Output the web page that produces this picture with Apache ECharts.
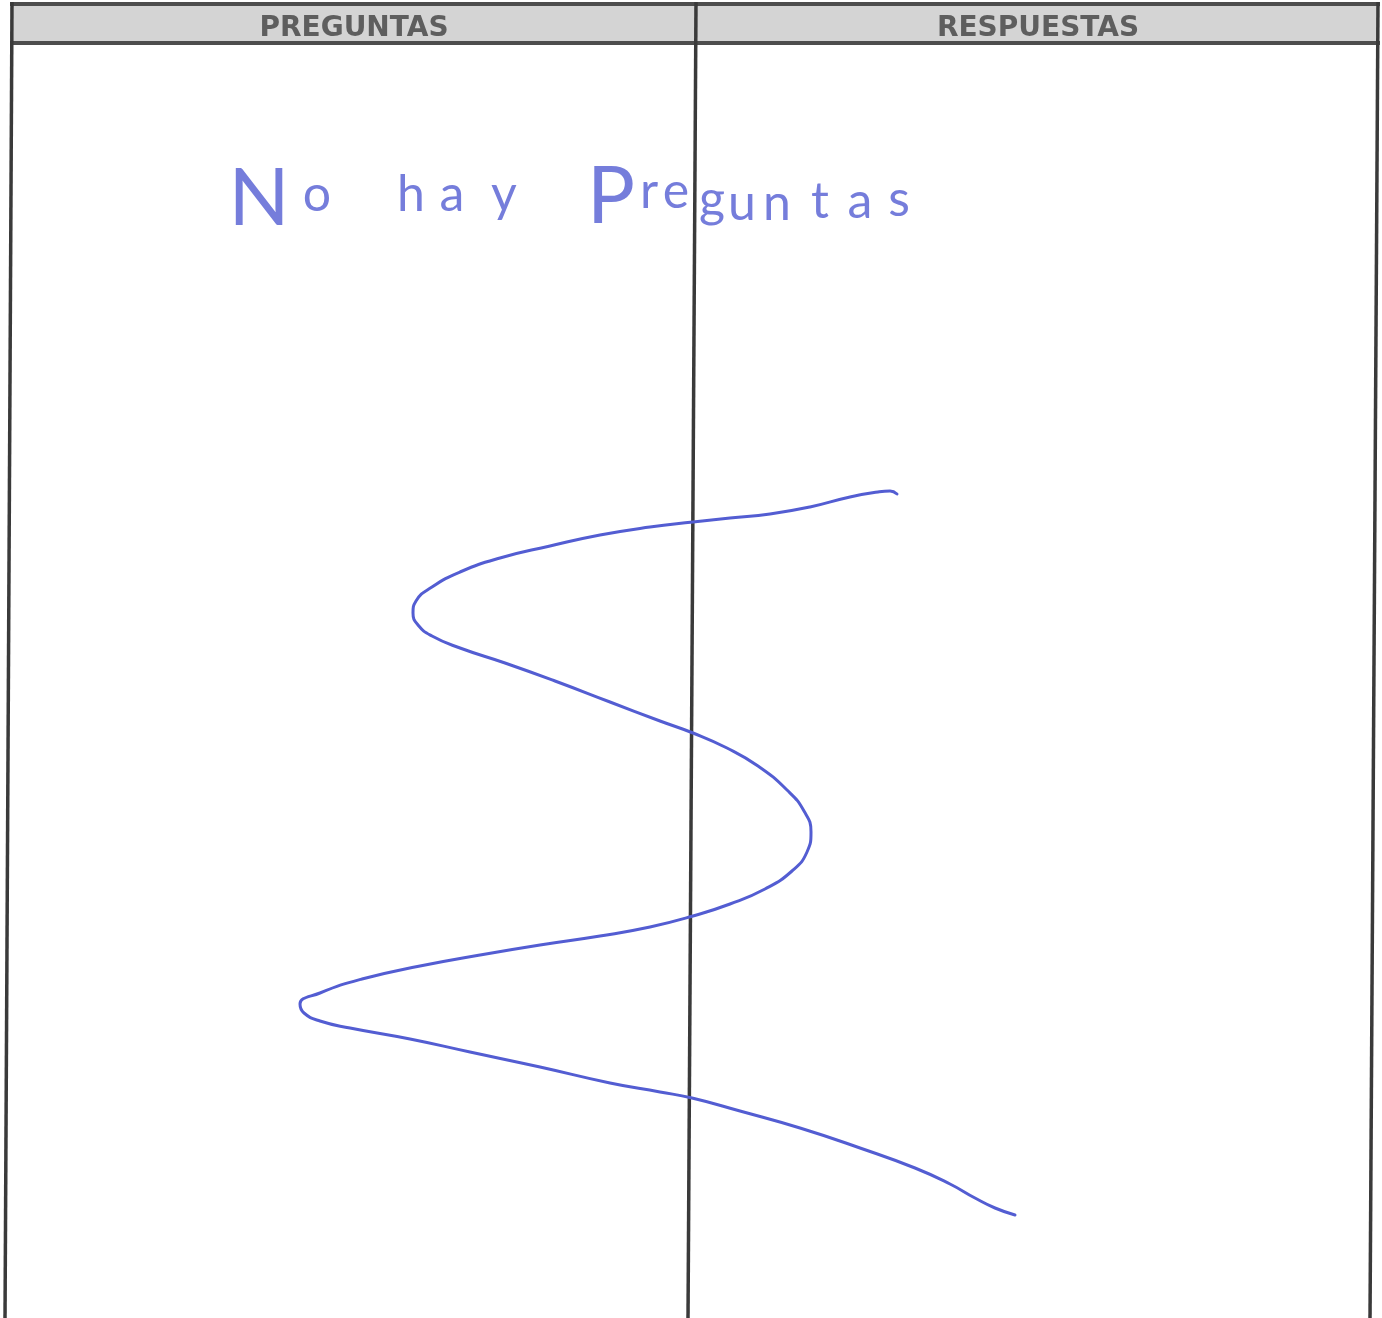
<!DOCTYPE html>
<html>
<head>
<meta charset="utf-8">
<script src="https://cdn.jsdelivr.net/npm/echarts@6/dist/echarts.min.js"></script>
<style>
html,body{margin:0;padding:0;background:#fff;}
#chart{width:1382px;height:1318px;}
</style>
</head>
<body>
<div id="chart"></div>
<script>
// ---- data (page coordinates, y downward) ----
const headerLabels = ['PREGUNTAS', 'RESPUESTAS'];
const headerCenters = [[354, 29], [1038, 29]];
const headerBox = [[12, 4], [1378, 4], [1378, 43], [12, 43]];
// table rules: [x1, y1, x2, y2]
const tableRules = [
  [10, 4, 1380, 4],
  [10, 43, 1380, 43],
  [12, 2, 5, 1318],
  [696, 2, 688, 1318],
  [1378, 2, 1370, 1318]
];
// handwritten note: glyph, centre x, baseline y
const noteGlyphs = ['N','o','h','a','y','P','r','e','g','u','n','t','a','s'];
const noteX = [259, 317, 411, 452, 504, 611, 649, 676, 712, 742, 777, 820, 860, 899];
const noteBaseline = [228, 213, 213, 213, 213, 226, 210, 210, 218, 222, 222, 220, 220, 218];
// pen stroke (scribble) points [x, y]
const penStroke = [
  [897,494],[890,491],[878,492],[850,497],[810,507],[770,514],[730,518],[693,522],
  [650,527],[600,535],[550,546],[500,558],[460,572],[432,587],[416,601],[413,613],
  [418,625],[432,636],[460,648],[505,663],[555,681],[610,702],[660,721],[693,733],
  [727,748],[758,766],[787,790],[804,811],[811,832],[807,852],[792,871],[765,889],
  [730,904],[693,916],[650,927],[600,936],[540,945],[480,955],[420,966],[362,979],
  [320,993],[300,1004],[304,1013],[320,1021],[350,1028],[410,1039],[470,1052],
  [540,1067],[610,1083],[660,1092],[692,1098],[740,1111],[800,1128],[860,1148],
  [915,1168],[950,1184],[975,1198],[995,1208],[1015,1215]
];

// ---- rendering ----
const PEN = '#535dd2';
const chart = echarts.init(document.getElementById('chart'), null, {renderer: 'canvas'});

const glyphData = noteGlyphs.map((g, i) => {
  const cap = g === g.toUpperCase();
  const size = cap ? 80 : 50;
  return {
    value: [noteX[i], noteBaseline[i] - size * 0.36],
    label: {formatter: g, fontSize: size}
  };
});

chart.setOption({
  animation: false,
  backgroundColor: '#ffffff',
  grid: {left: 0, right: 0, top: 0, bottom: 0},
  xAxis: {type: 'value', min: 0, max: 1382, show: false},
  yAxis: {type: 'value', min: 0, max: 1318, inverse: true, show: false},
  series: [
    {
      type: 'custom',
      z: 1,
      silent: true,
      data: [0],
      renderItem: function (params, api) {
        const pts = headerBox.map(p => api.coord(p));
        return {type: 'polygon', shape: {points: pts}, style: {fill: '#d4d4d4'}};
      }
    },
    {
      type: 'custom',
      z: 2,
      silent: true,
      data: tableRules,
      renderItem: function (params, api) {
        const a = api.coord([api.value(0), api.value(1)]);
        const b = api.coord([api.value(2), api.value(3)]);
        const horiz = Math.abs(a[1] - b[1]) < 1;
        return {
          type: 'line',
          shape: {x1: a[0], y1: a[1], x2: b[0], y2: b[1]},
          style: {stroke: horiz ? '#4d4d4d' : '#3a3a3a', lineWidth: horiz ? 4 : 3.5}
        };
      }
    },
    {
      type: 'scatter',
      z: 3,
      silent: true,
      symbolSize: 0,
      data: headerCenters.map((c, i) => ({value: c, label: {formatter: headerLabels[i]}})),
      label: {
        show: true, position: 'inside', align: 'center', verticalAlign: 'middle',
        fontFamily: 'DejaVu Sans', fontWeight: 'bold', fontSize: 28, color: '#404040'
      }
    },
    {
      type: 'scatter',
      z: 4,
      silent: true,
      symbolSize: 0,
      data: glyphData,
      label: {
        show: true, position: 'inside', align: 'center', verticalAlign: 'middle',
        fontFamily: 'Lato', fontWeight: 'normal', color: PEN
      }
    },
    {
      type: 'line',
      z: 5,
      silent: true,
      data: penStroke,
      smooth: 0.5,
      showSymbol: false,
      symbol: 'none',
      lineStyle: {color: PEN, width: 3, cap: 'round', join: 'round'}
    }
  ]
});
</script>
</body>
</html>
